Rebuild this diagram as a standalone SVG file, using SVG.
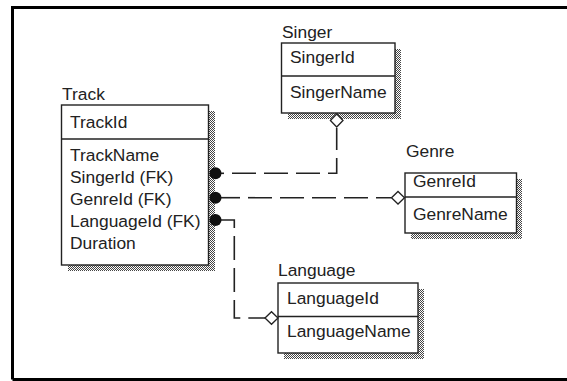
<svg xmlns="http://www.w3.org/2000/svg" width="567" height="381" viewBox="0 0 567 381">
<defs>
<pattern id="dots" width="2" height="2" patternUnits="userSpaceOnUse">
<rect width="2" height="2" fill="#fff"/>
<rect width="1" height="1" fill="#444"/>
<rect x="1" y="1" width="1" height="1" fill="#444"/>
</pattern>
</defs>
<style>
.t{font-family:"Liberation Sans",Arial,sans-serif;font-size:17.4px;fill:#222}
.box{fill:#fff;stroke:#222;stroke-width:1.4}
.sh{fill:url(#dots)}
.div{stroke:#222;stroke-width:1.4}
.rel{fill:none;stroke:#222;stroke-width:1.6;stroke-dasharray:24 8}
.solid{fill:none;stroke:#222;stroke-width:1.6}
.dot{fill:#111}
.dia{fill:#fff;stroke:#222;stroke-width:1.3}
</style>
<rect width="567" height="381" fill="#fff"/>
<path d="M12.5,379.5 V7.5 H567 M12.5,379.5 H567" fill="none" stroke="#000" stroke-width="3"/>

<g id="Track">
<rect class="sh" x="68" y="111" width="147" height="160"/>
<rect class="box" x="61.5" y="105" width="147" height="160"/>
<line class="div" x1="61.5" y1="139" x2="208.5" y2="139"/>
<text class="t" x="62" y="100">Track</text>
<text class="t" x="70" y="128">TrackId</text>
<text class="t" x="70" y="161">TrackName</text>
<text class="t" x="70" y="183">SingerId (FK)</text>
<text class="t" x="70" y="205">GenreId (FK)</text>
<text class="t" x="70" y="227">LanguageId (FK)</text>
<text class="t" x="70" y="249">Duration</text>
</g>

<g id="Singer">
<rect class="sh" x="288" y="49" width="113" height="70"/>
<rect class="box" x="281.5" y="43" width="113.5" height="70"/>
<line class="div" x1="281.5" y1="76" x2="395" y2="76"/>
<text class="t" x="282" y="38">Singer</text>
<text class="t" x="290" y="63">SingerId</text>
<text class="t" x="290" y="98">SingerName</text>
</g>

<g id="Genre">
<rect class="sh" x="411" y="179" width="111" height="60"/>
<rect class="box" x="405" y="173" width="111.5" height="60"/>
<line class="div" x1="405" y1="197" x2="516.5" y2="197"/>
<text class="t" x="406" y="157">Genre</text>
<text class="t" x="413" y="187">GenreId</text>
<text class="t" x="413" y="220">GenreName</text>
</g>

<g id="Language">
<rect class="sh" x="284" y="289" width="140" height="70"/>
<rect class="box" x="278" y="283" width="140" height="70"/>
<line class="div" x1="278" y1="316.5" x2="418" y2="316.5"/>
<text class="t" x="278" y="276">Language</text>
<text class="t" x="287" y="304">LanguageId</text>
<text class="t" x="287" y="337">LanguageName</text>
</g>

<g id="connectors">
<path class="solid" d="M216,173.3 H224"/>
<path class="rel" d="M232,173.3 H336.7 V128"/>
<path class="solid" d="M216,197.7 H240"/>
<path class="rel" d="M248,197.7 H391.5"/>
<path class="solid" d="M216,220 H234.3 V228"/>
<path class="rel" d="M234.3,236 V318 H265"/>
<circle class="dot" cx="215.5" cy="173.3" r="6"/>
<circle class="dot" cx="215.5" cy="197.7" r="6"/>
<circle class="dot" cx="215.5" cy="220" r="6"/>
<path class="dia" d="M336.7,114 L343,120.5 L336.7,127 L330.4,120.5 Z"/>
<path class="dia" d="M391.5,197.7 L398,191.5 L404.5,197.7 L398,204 Z"/>
<path class="dia" d="M265,318 L271.5,311.7 L278,318 L271.5,324.3 Z"/>
</g>
</svg>
